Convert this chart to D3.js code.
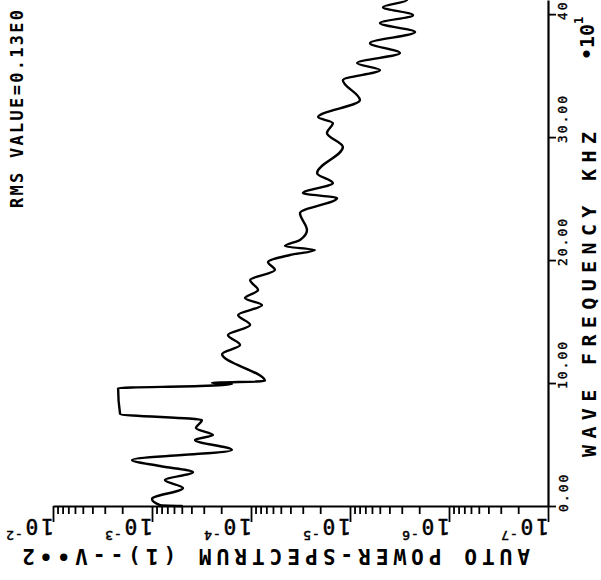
<!DOCTYPE html>
<html><head><meta charset="utf-8">
<script src="https://cdn.jsdelivr.net/npm/d3@7"></script>
<style>html,body{margin:0;padding:0;background:#fff;} svg{display:block}</style>
</head><body>
<svg id="chart" width="601" height="580"></svg>
<script>
// ---- data (frequency in axis units x10^1 kHz, auto power spectrum V**2) ----
const freq = [0.00,0.08,0.57,1.46,2.11,2.76,3.25,3.74,4.55,5.37,5.77,6.34,6.99,7.48,9.59,9.76,9.92,10.00,10.16,
  12.36,13.09,13.90,14.72,15.53,16.34,16.91,17.56,18.37,19.19,19.84,20.41,20.81,21.14,21.63,22.44,
  23.82,25.04,25.45,26.26,27.07,29.19,30.33,31.14,31.63,33.01,34.63,35.45,36.02,36.83,37.64,38.54,39.27,39.92,40.57,41.14,41.54];
const power = [5.0e-4,8.3e-4,1.0e-3,4.86e-4,7.4e-4,3.85e-4,8.3e-4,1.59e-3,1.56e-4,3.68e-4,2.42e-4,3.6e-4,3.13e-4,2.1e-3,2.2e-3,3.27e-4,1.56e-4,2.48e-4,7.23e-5,
  1.96e-4,1.29e-4,1.71e-4,1.02e-4,1.35e-4,7.74e-5,1.15e-4,8.49e-5,1.02e-4,5.73e-5,6.73e-5,4.04e-5,2.26e-5,4.54e-5,3.2e-5,2.72e-5,
  3.2e-5,1.35e-5,2.99e-5,1.49e-5,2.15e-5,1.18e-5,1.71e-5,1.49e-5,2.1e-5,7.93e-6,1.18e-5,4.98e-6,8.49e-6,3.13e-6,6.28e-6,2.2e-6,4.98e-6,2.31e-6,4.64e-6,2.65e-6,3.94e-6];
const freqTicks = [0,10,20,30,40];
const freqTickLabels = ["0.00","10.00","20.00","30.00","40.00"];
const powerTicks = [1e-2,1e-3,1e-4,1e-5,1e-6,1e-7];
const powerTickExps = ["-2","-3","-4","-5","-6","-7"];
const freqTitle = "WAVE FREQUENCY KHZ";
const powerTitle = "AUTO POWER-SPECTRUM (1)--V\u2022\u20222";
const rmsText = "RMS VALUE=0.13E0";
const multBase = "\u202210";
const multExp = "1";

// ---- scales ----
const svg = d3.select("#chart");
const x = d3.scaleLog().domain([1e-2, 1e-7]).range([53, 548]);
const y = d3.scaleLinear().domain([0, 41.15]).range([506, 0]);
const FONT = "'DejaVu Sans Mono','Liberation Mono',monospace";

// minor ticks of log axis
const minor = [];
for (let d = -7; d <= -3; d++) for (let k = 2; k <= 9; k++) minor.push(k * Math.pow(10, d));

// power axis (bottom)
const gx = svg.append("g").attr("transform", `translate(0,${y(0)})`)
  .call(d3.axisBottom(x).tickValues(powerTicks.concat(minor)).tickFormat("").tickSizeOuter(0));
gx.select(".domain").attr("stroke", "#000").attr("stroke-width", 2.2);
gx.selectAll(".tick line").attr("stroke", "#000").attr("stroke-width", 1.8)
  .attr("y2", d => powerTicks.includes(d) ? 16 : 8);

// frequency axis (right)
const gy = svg.append("g").attr("transform", `translate(${x(1e-7)},0)`)
  .call(d3.axisRight(y).tickValues(freqTicks).tickFormat("").tickSize(8).tickSizeOuter(0));
gy.select(".domain").attr("stroke", "#000").attr("stroke-width", 2.2);
gy.selectAll(".tick line").attr("stroke", "#000").attr("stroke-width", 1.8);

// frequency tick labels
freqTicks.forEach((t, i) => {
  const px = x(1e-7) + 15, py = y(t) + 6;
  svg.append("text").attr("x", px).attr("y", py)
    .attr("transform", `rotate(-90,${px},${py})`)
    .attr("dominant-baseline", "central")
    .attr("font-family", FONT).attr("font-size", 13).attr("letter-spacing", 2)
    .attr("fill", "#000").attr("stroke", "#000").attr("stroke-width", 0.4)
    .text(freqTickLabels[i]);
});

// power tick labels (upside down)
powerTicks.forEach((t, i) => {
  const g = svg.append("g").attr("transform", `translate(${x(t) + 1},${y(0) + 13}) rotate(180)`);
  const tx = g.append("text").attr("font-family", FONT).attr("font-size", 21)
    .attr("letter-spacing", 3).attr("fill", "#000").attr("stroke", "#000").attr("stroke-width", 0.5);
  tx.append("tspan").text("10");
  tx.append("tspan").attr("font-size", 13).attr("dy", -12).attr("letter-spacing", 1).text(powerTickExps[i]);
});

// power axis title (upside down)
svg.append("g").attr("transform", `translate(530,${y(0) + 43}) rotate(180)`)
  .append("text").attr("font-family", FONT).attr("font-size", 21).attr("font-weight", "bold")
  .attr("textLength", 508).attr("lengthAdjust", "spacing").attr("fill", "#000")
  .text(powerTitle);

// frequency title
{
  const px = 589, py = 457;
  svg.append("text").attr("x", px).attr("y", py)
    .attr("transform", `rotate(-90,${px},${py})`).attr("dominant-baseline", "central")
    .attr("font-family", FONT).attr("font-size", 20).attr("font-weight", "bold")
    .attr("textLength", 325).attr("lengthAdjust", "spacing").attr("fill", "#000")
    .text(freqTitle);
}
// multiplier
{
  const px = 587, py = 60;
  const t = svg.append("text").attr("x", px).attr("y", py)
    .attr("transform", `rotate(-90,${px},${py})`).attr("dominant-baseline", "central")
    .attr("font-family", FONT).attr("font-size", 20).attr("font-weight", "bold").attr("fill", "#000");
  t.append("tspan").text(multBase);
  t.append("tspan").attr("font-size", 12).attr("dy", -8).text(multExp);
}
// RMS value
{
  const px = 17, py = 208;
  svg.append("text").attr("x", px).attr("y", py)
    .attr("transform", `rotate(-90,${px},${py})`).attr("dominant-baseline", "central")
    .attr("font-family", FONT).attr("font-size", 17).attr("font-weight", "bold")
    .attr("textLength", 198).attr("lengthAdjust", "spacing").attr("fill", "#000")
    .text(rmsText);
}

// spectrum curve
const data = freq.map((f, i) => ({ f, p: power[i] }));
svg.append("path").datum(data)
  .attr("fill", "none").attr("stroke", "#000").attr("stroke-width", 2.4)
  .attr("stroke-linejoin", "round").attr("stroke-linecap", "round")
  .attr("d", d3.line().curve(d3.curveMonotoneY).x(d => x(d.p)).y(d => y(d.f)));
</script>
</body></html>
